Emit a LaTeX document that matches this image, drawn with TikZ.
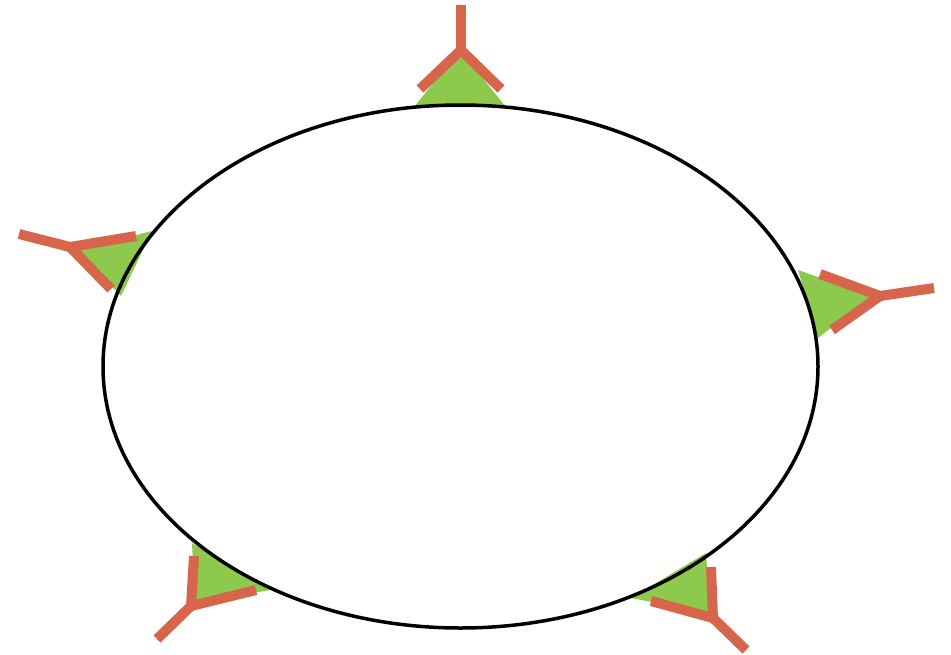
\documentclass[tikz,border=0pt]{standalone}
\usetikzlibrary{calc}
\definecolor{antgreen}{HTML}{8CC94C}
\definecolor{antorange}{HTML}{D6654B}
\tikzset{
  tri/.style={fill=antgreen, draw=none},
  arm/.style={draw=antorange, line width=10pt, line cap=butt, line join=miter},
  ring/.style={draw=black, line width=3.5pt}
}
\begin{document}
\begin{tikzpicture}[x=1pt,y=-1pt]
\useasboundingbox (0,0) rectangle (951,654);
% top
\coordinate (t1) at (414,107); \coordinate (t2) at (506,107); \coordinate (tA) at (460,50);
\coordinate (tS) at (461,5); \coordinate (tP) at (461,50); \coordinate (tL) at (420,89); \coordinate (tR) at (501,89);
% left
\coordinate (l1) at (152,231); \coordinate (l2) at (121,296); \coordinate (lA) at (76,250);
\coordinate (lS) at (19,234); \coordinate (lP) at (70,247); \coordinate (lL) at (136,236); \coordinate (lR) at (111,289);
% right
\coordinate (r1) at (798,270); \coordinate (r2) at (818,338); \coordinate (rA) at (872,296);
\coordinate (rS) at (934,288); \coordinate (rP) at (880,296); \coordinate (rL) at (820,274); \coordinate (rR) at (832,330);
% bottom left
\coordinate (b1) at (192,543); \coordinate (b2) at (270,590); \coordinate (bA) at (195,603);
\coordinate (bS) at (157,639); \coordinate (bP) at (191,606); \coordinate (bL) at (194,556); \coordinate (bR) at (256,590);
% bottom right
\coordinate (c1) at (631,598); \coordinate (c2) at (706,553); \coordinate (cA) at (710,613);
\coordinate (cS) at (746,650); \coordinate (cP) at (713,618); \coordinate (cL) at (711,567); \coordinate (cR) at (651,601);

\fill[tri] (t1) -- (tA) -- (t2) -- cycle;
\fill[tri] (l1) -- (lA) -- (l2) -- cycle;
\fill[tri] (r1) -- (rA) -- (r2) -- cycle;
\fill[tri] (b1) -- (bA) -- (b2) -- cycle;
\fill[tri] (c1) -- (cA) -- (c2) -- cycle;

\draw[ring] (460.5,366.5) ellipse [x radius=357.5, y radius=261.5];

\draw[arm] (tL) -- (tP) -- (tR); \draw[arm] (tP) -- (tS);
\draw[arm] (lL) -- (lP) -- (lR); \draw[arm] (lP) -- (lS);
\draw[arm] (rL) -- (rP) -- (rR); \draw[arm] (rP) -- (rS);
\draw[arm] (bL) -- (bP) -- (bR); \draw[arm] (bP) -- (bS);
\draw[arm] (cL) -- (cP) -- (cR); \draw[arm] (cP) -- (cS);
\end{tikzpicture}
\end{document}
